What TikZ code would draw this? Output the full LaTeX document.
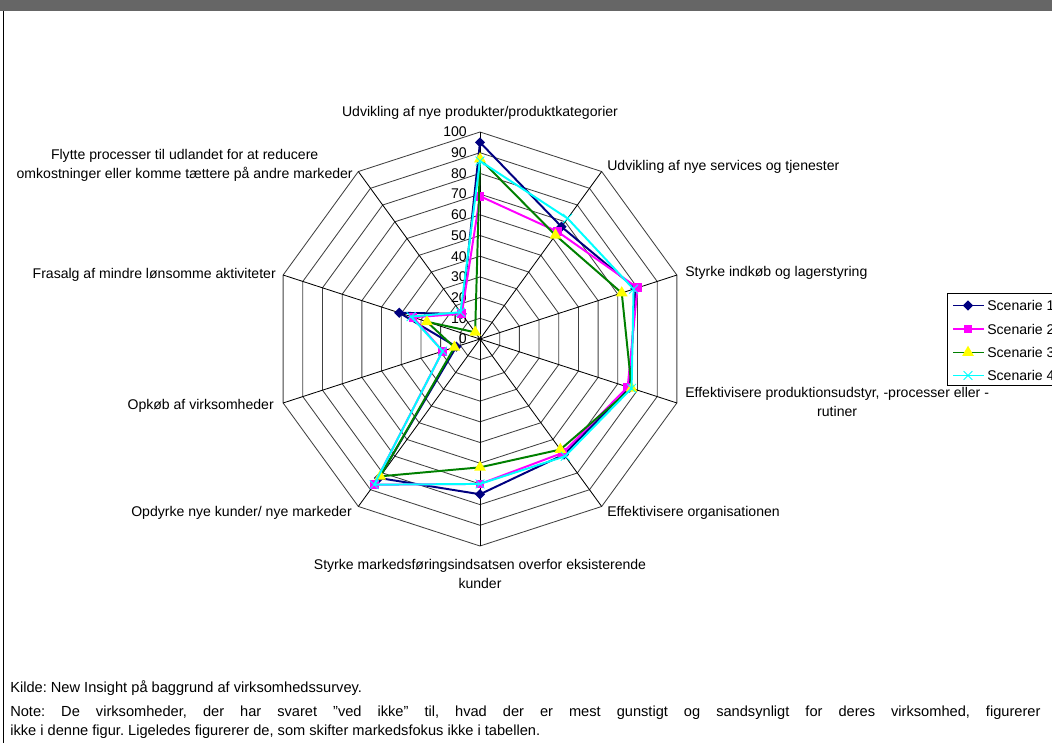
\documentclass[tikz,border=0pt]{standalone}
\usepackage{fontspec}
\setmainfont{Liberation Sans}
\usetikzlibrary{positioning,shapes.geometric,shapes.misc}
\frenchspacing

\definecolor{serone}{RGB}{0,0,128}
\definecolor{sertwo}{RGB}{255,0,255}
\definecolor{serthree}{RGB}{0,128,0}
\definecolor{serfour}{RGB}{0,255,255}
\definecolor{mkyellow}{RGB}{255,255,0}
\definecolor{barfill}{RGB}{102,102,102}

\tikzset{
  ring/.style={black!75, line width=0.6pt},
  spoke/.style={black, line width=0.6pt},
  catlabel/.style={font=\fontsize{10}{13.5}\selectfont, inner sep=0pt, align=center},
  ticklabel/.style={font=\fontsize{10}{12}\selectfont, inner sep=0pt, anchor=east},
  notetext/.style={font=\fontsize{10.4}{13.5}\selectfont, inner sep=0pt, anchor=west},
  series/.style={line width=1.4pt, line join=round},
  ser1/.style={series, serone},
  ser2/.style={series, sertwo},
  ser3/.style={series, serthree},
  ser4/.style={series, serfour},
  mk1/.style={diamond, fill=serone, inner sep=0pt, minimum size=0.26cm},
  mk2/.style={rectangle, fill=sertwo, inner sep=0pt, minimum size=0.22cm},
  mk3/.style={regular polygon, regular polygon sides=3, fill=mkyellow, inner sep=0pt, minimum size=0.34cm},
  mk4/.style={cross out, draw=serfour, line width=0.6pt, inner sep=0pt, minimum size=0.2cm},
}

\begin{document}
\begin{tikzpicture}[x=0.025cm, y=-0.025cm]

% Frame
\useasboundingbox (0,0) rectangle (1052,743);
\clip (0,0) rectangle (1052,743);
\fill[barfill] (0,0) rectangle (1052,11);
\coordinate (ftop) at (3,11);
\coordinate (fbot) at (3,743);
\draw[line width=0.6pt] (ftop) -- (fbot);

\begin{scope}[shift={(480,339)}]

% Grid: rings and spokes
\coordinate (ctr) at (0,0);
\foreach \k in {0,...,9}
  \coordinate (v\k) at (\k*36-90:207);
\foreach \r in {1,...,10}
  \draw[ring] (-90:\r*20.7) \foreach \k in {1,...,9}{ -- (\k*36-90:\r*20.7)} -- cycle;
\foreach \k in {0,...,9}
  \draw[spoke] (ctr) -- (v\k);
\fill (ctr) circle (1.2);

% Values on the axis
\foreach \v in {0,10,...,100}
  \node[ticklabel] (t\v) at (-13,-\v*2.07) {\v};

% Scenarie 1
\foreach \v [count=\k from 0] in {95,67,79,76,69,75,83,12,41,15}
  \coordinate (a\k) at (\k*36-90:\v*2.07);
\draw[ser1] (a0) \foreach \k in {1,...,9}{ -- (a\k)} -- cycle;
\foreach \k in {0,...,9}
  \node[mk1] (ma\k) at (a\k) {};

% Scenarie 2
\foreach \v [count=\k from 0] in {69,64,80,75,68,70,87,19,34,15}
  \coordinate (b\k) at (\k*36-90:\v*2.07);
\draw[ser2] (b0) \foreach \k in {1,...,9}{ -- (b\k)} -- cycle;
\foreach \k in {0,...,9}
  \node[mk2] (mb\k) at (b\k) {};

% Scenarie 3
\foreach \v [count=\k from 0] in {87,62,72,77,66,62,82,13,27,4}
  \coordinate (c\k) at (\k*36-90:\v*2.07);
\draw[ser3] (c0) \foreach \k in {1,...,9}{ -- (c\k)} -- cycle;
\foreach \k in {0,...,9}
  \node[mk3] (mc\k) at (c\k) {};

% Scenarie 4
\foreach \v [count=\k from 0] in {86,72,78,77,70,70,87,19,35,16}
  \coordinate (d\k) at (\k*36-90:\v*2.07);
\draw[ser4] (d0) \foreach \k in {1,...,9}{ -- (d\k)} -- cycle;
\foreach \k in {0,...,9}
  \node[mk4] (md\k) at (d\k) {};

\end{scope}

% Category labels
\node[catlabel] (lab0) at (480,113) {Udvikling af nye produkter/produktkategorier};
\node[catlabel, anchor=west] (lab1) at (607,167) {Udvikling af nye services og tjenester};
\node[catlabel, anchor=west] (lab2) at (685,273) {Styrke indkøb og lagerstyring};
\node[catlabel, anchor=west] (lab3) at (685,402) {Effektivisere produktionsudstyr, -processer eller -\\rutiner};
\node[catlabel, anchor=west] (lab4) at (607,513) {Effektivisere organisationen};
\node[catlabel] (lab5) at (480,574) {Styrke markedsføringsindsatsen overfor eksisterende\\kunder};
\node[catlabel, anchor=east] (lab6) at (352,513) {Opdyrke nye kunder/ nye markeder};
\node[catlabel, anchor=east] (lab7) at (274,406) {Opkøb af virksomheder};
\node[catlabel, anchor=east] (lab8) at (276,275) {Frasalg af mindre lønsomme aktiviteter};
\node[catlabel, anchor=east] (lab9) at (353,165.5) {Flytte processer til udlandet for at reducere\\omkostninger eller komme tættere på andre markeder};

% Legend
\draw[line width=0.6pt] (947,293) rectangle (1070,385);
\foreach \i/\y in {1/305.5, 2/329, 3/352.5, 4/375.5}{
  \coordinate (lgs\i) at (953,\y);
  \coordinate (lge\i) at (984,\y);
  \draw[ser\i] (lgs\i) -- (lge\i);
  \node[mk\i] (lgm\i) at (968,\y) {};
  \node[catlabel, anchor=west] (lgt\i) at (987,\y) {Scenarie \i};
}

% Source and note
\node[notetext] (kilde) at (10,688) {Kilde: New Insight på baggrund af virksomhedssurvey.};
\node[notetext, text width=25.75cm, align=justify] (note) at (10,722.5) {Note: De virksomheder, der har svaret ”ved ikke” til, hvad der er mest gunstigt og sandsynligt for deres virksomhed, figurerer\linebreak ikke i denne figur. Ligeledes figurerer de, som skifter markedsfokus ikke i tabellen.};

\end{tikzpicture}
\end{document}
